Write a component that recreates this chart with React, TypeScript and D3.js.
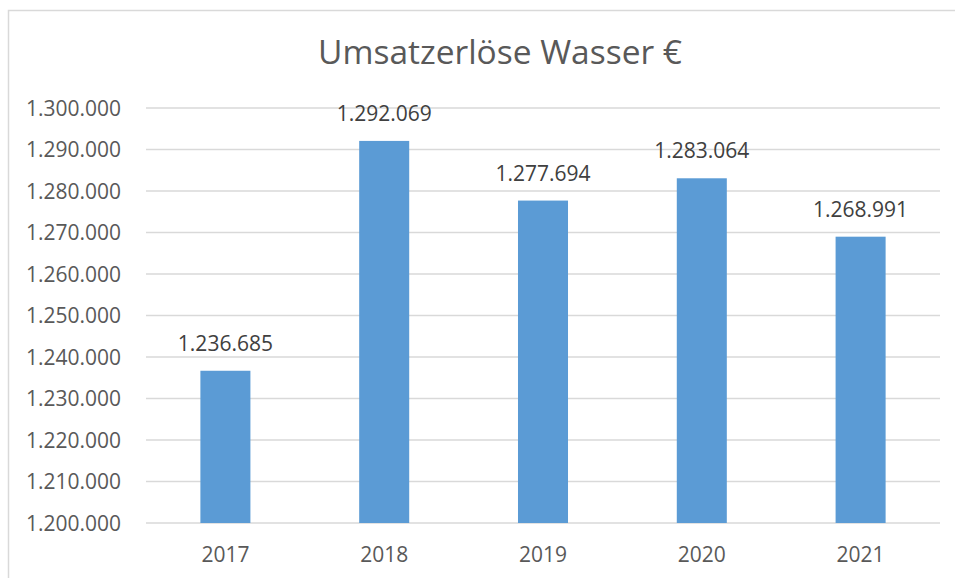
import React from "react";
import * as d3 from "d3";

const categories = ["2017", "2018", "2019", "2020", "2021"];
const values = [1236685, 1292069, 1277694, 1283064, 1268991];
const yTicks = [1200000, 1210000, 1220000, 1230000, 1240000, 1250000, 1260000, 1270000, 1280000, 1290000, 1300000];
const title = "Umsatzerlöse Wasser €";

const W = 955;
const H = 578;
const left = 146;
const right = 940;
const top = 108;
const bottom = 523;

const fmt = (v: number) => d3.format(",.0f")(v).replace(/,/g, ".");

export default function App() {
  const x = d3.scaleBand<string>().domain(categories).range([left, right]).paddingInner(0.685).paddingOuter(0.3425);
  const y = d3.scaleLinear().domain([1200000, 1300000]).range([bottom, top]);
  const font = "'Open Sans', sans-serif";
  const textColor = "#595959";
  return (
    <svg width={W} height={H} style={{ position: "absolute", left: 0, top: 0, background: "#fff" }} fontFamily={font}>
      <rect x={8.5} y={10.5} width={1200} height={800} fill="#fff" stroke="#d9d9d9" strokeWidth={1.5} />
      <text x={500} y={64} textAnchor="middle" fontSize={32} fill={textColor} textLength={364} lengthAdjust="spacingAndGlyphs">{title}</text>
      {yTicks.map((t) => (
        <g key={t}>
          <line x1={left} x2={right} y1={y(t)} y2={y(t)} stroke="#d9d9d9" strokeWidth={1.5} />
          <text x={121} y={y(t) + 7.5} textAnchor="end" fontSize={21} fill={textColor}>{fmt(t)}</text>
        </g>
      ))}
      {categories.map((c, i) => (
        <g key={c}>
          <rect x={x(c)} y={y(values[i])} width={x.bandwidth()} height={bottom - y(values[i])} fill="#5b9bd5" />
          <text x={(x(c) as number) + x.bandwidth() / 2} y={y(values[i]) - 20} textAnchor="middle" fontSize={21} fill="#404040">{fmt(values[i])}</text>
          <text x={(x(c) as number) + x.bandwidth() / 2} y={562} textAnchor="middle" fontSize={21} fill={textColor}>{c}</text>
        </g>
      ))}
    </svg>
  );
}
